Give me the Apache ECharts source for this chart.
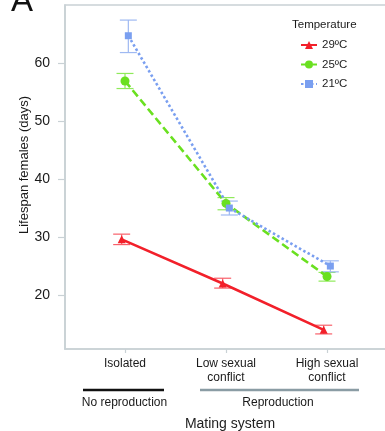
<!DOCTYPE html>
<html>
<head>
<meta charset="utf-8">
<script src="https://cdn.jsdelivr.net/npm/echarts@6/dist/echarts.min.js"></script>
<style>
  html, body { margin: 0; padding: 0; background: #fff; }
  #chart { width: 385px; height: 431px; }
</style>
</head>
<body>
<div id="chart"></div>
<script>
// mating system categories (x positions 0,1,2)
const categories = ['Isolated', 'Low sexual\nconflict', 'High sexual\nconflict'];
const temps = ['29ºC', '25ºC', '21ºC'];
const yTicks = [20, 30, 40, 50, 60];

// lifespan means and error bar ends (days)
const mean29 = [29.6, 22.0, 14.0];
const low29 = [28.7, 21.2, 13.3];
const high29 = [30.5, 22.9, 14.8];

const mean25 = [56.9, 35.8, 23.2];
const low25 = [55.6, 34.7, 22.4];
const high25 = [58.2, 36.8, 23.9];

const mean21 = [64.7, 35.0, 25.0];
const low21 = [61.8, 33.8, 24.0];
const high21 = [67.4, 36.2, 25.9];

const FONT = '"Liberation Sans", Arial, sans-serif';
const AXIS_GREY = '#c9d1d5';

const groups = [
    { name: temps[0], mean: mean29, low: low29, high: high29, dodge: -0.033,
      color: '#f2202a', bar: '#f8606a', symbol: 'triangle', size: 8, line: 'solid' },
    { name: temps[1], mean: mean25, low: low25, high: high25, dodge: 0,
      color: '#6ae020', bar: '#8fea5a', symbol: 'circle', size: 9, line: [8, 4] },
    { name: temps[2], mean: mean21, low: low21, high: high21, dodge: 0.033,
      color: '#7a9ff0', bar: '#9fb9f2', symbol: 'rect', size: 7, line: [2.5, 2.5] }
];

const series = [];
groups.forEach(g => {
    // error bars
    series.push({
        type: 'custom',
        silent: true,
        z: 2,
        data: g.mean.map((m, i) => [i + g.dodge, g.low[i], g.high[i]]),
        renderItem: (params, api) => {
            const x = api.value(0);
            const pLo = api.coord([x, api.value(1)]);
            const pHi = api.coord([x, api.value(2)]);
            const hw = 8.5;
            const style = { stroke: g.bar, lineWidth: 1.2 };
            return {
                type: 'group',
                children: [
                    { type: 'line', shape: { x1: pLo[0], y1: pLo[1], x2: pHi[0], y2: pHi[1] }, style },
                    { type: 'line', shape: { x1: pLo[0] - hw, y1: pLo[1], x2: pLo[0] + hw, y2: pLo[1] }, style },
                    { type: 'line', shape: { x1: pHi[0] - hw, y1: pHi[1], x2: pHi[0] + hw, y2: pHi[1] }, style }
                ]
            };
        }
    });
    // means
    series.push({
        name: g.name,
        type: 'line',
        z: 3,
        data: g.mean.map((m, i) => [i + g.dodge, m]),
        symbol: g.symbol,
        symbolSize: g.size,
        showSymbol: true,
        itemStyle: { color: g.color },
        lineStyle: { color: g.color, width: 2.6, type: g.line }
    });
});

const chart = echarts.init(document.getElementById('chart'));

const option = {
    animation: false,
    backgroundColor: '#fff',
    textStyle: { fontFamily: FONT },
    grid: {
        left: 65,
        top: 5,
        width: 330,
        bottom: 82,
        outerBoundsMode: 'none',
        containLabel: false,
        show: true,
        borderColor: AXIS_GREY,
        borderWidth: 1.6
    },
    legend: {
        orient: 'vertical',
        left: 295,
        top: 34,
        itemWidth: 16,
        itemHeight: 10,
        itemGap: 7.5,
        data: temps,
        textStyle: { color: '#222', fontSize: 11.5, fontFamily: FONT }
    },
    xAxis: {
        type: 'value',
        min: -0.594,
        max: 2.673,
        name: 'Mating system',
        nameLocation: 'middle',
        nameGap: 68,
        nameMoveOverlap: false,
        nameTextStyle: { color: '#222', fontSize: 14, fontFamily: FONT },
        axisLine: { show: true, onZero: false, lineStyle: { color: AXIS_GREY, width: 1.6 } },
        axisTick: { show: true, customValues: [0, 1, 2], length: 4, lineStyle: { color: AXIS_GREY, width: 1.2 } },
        axisLabel: {
            customValues: [0, 1, 2],
            formatter: v => categories[Math.round(v)],
            color: '#1a1a1a',
            fontSize: 12,
            lineHeight: 14,
            margin: 8,
            fontFamily: FONT
        },
        splitLine: { show: false }
    },
    yAxis: {
        type: 'value',
        min: 10.7,
        max: 70,
        name: 'Lifespan females (days)',
        nameLocation: 'middle',
        nameGap: 34,
        nameMoveOverlap: false,
        nameTextStyle: { color: '#1a1a1a', fontSize: 13, fontFamily: FONT, padding: [0, 0, 0, 24] },
        axisLine: { show: true, onZero: false, lineStyle: { color: AXIS_GREY, width: 1.6 } },
        axisTick: { show: true, customValues: yTicks, length: 7, lineStyle: { color: AXIS_GREY, width: 1.2 } },
        axisLabel: {
            customValues: yTicks,
            color: '#1a1a1a',
            fontSize: 14,
            margin: 15,
            fontFamily: FONT
        },
        splitLine: { show: false }
    },
    graphic: [
        { type: 'text', left: 11, top: -15,
          style: { text: 'A', fill: '#111', font: '33px ' + FONT } },
        { type: 'text', left: 292, top: 19,
          style: { text: 'Temperature', fill: '#1a1a1a', font: '11.5px ' + FONT } },
        // group bars under the x categories
        { type: 'line', shape: { x1: 83, y1: 390, x2: 164, y2: 390 },
          style: { stroke: '#111', lineWidth: 2.6 } },
        { type: 'line', shape: { x1: 200, y1: 390, x2: 359, y2: 390 },
          style: { stroke: '#8a9ca4', lineWidth: 2.6 } },
        { type: 'text', x: 124.5, y: 403,
          style: { text: 'No reproduction', fill: '#1a1a1a', font: '12px ' + FONT, align: 'center', verticalAlign: 'middle' } },
        { type: 'text', x: 278, y: 403,
          style: { text: 'Reproduction', fill: '#1a1a1a', font: '12px ' + FONT, align: 'center', verticalAlign: 'middle' } }
    ],
    series: series
};

chart.setOption(option);
</script>
</body>
</html>
